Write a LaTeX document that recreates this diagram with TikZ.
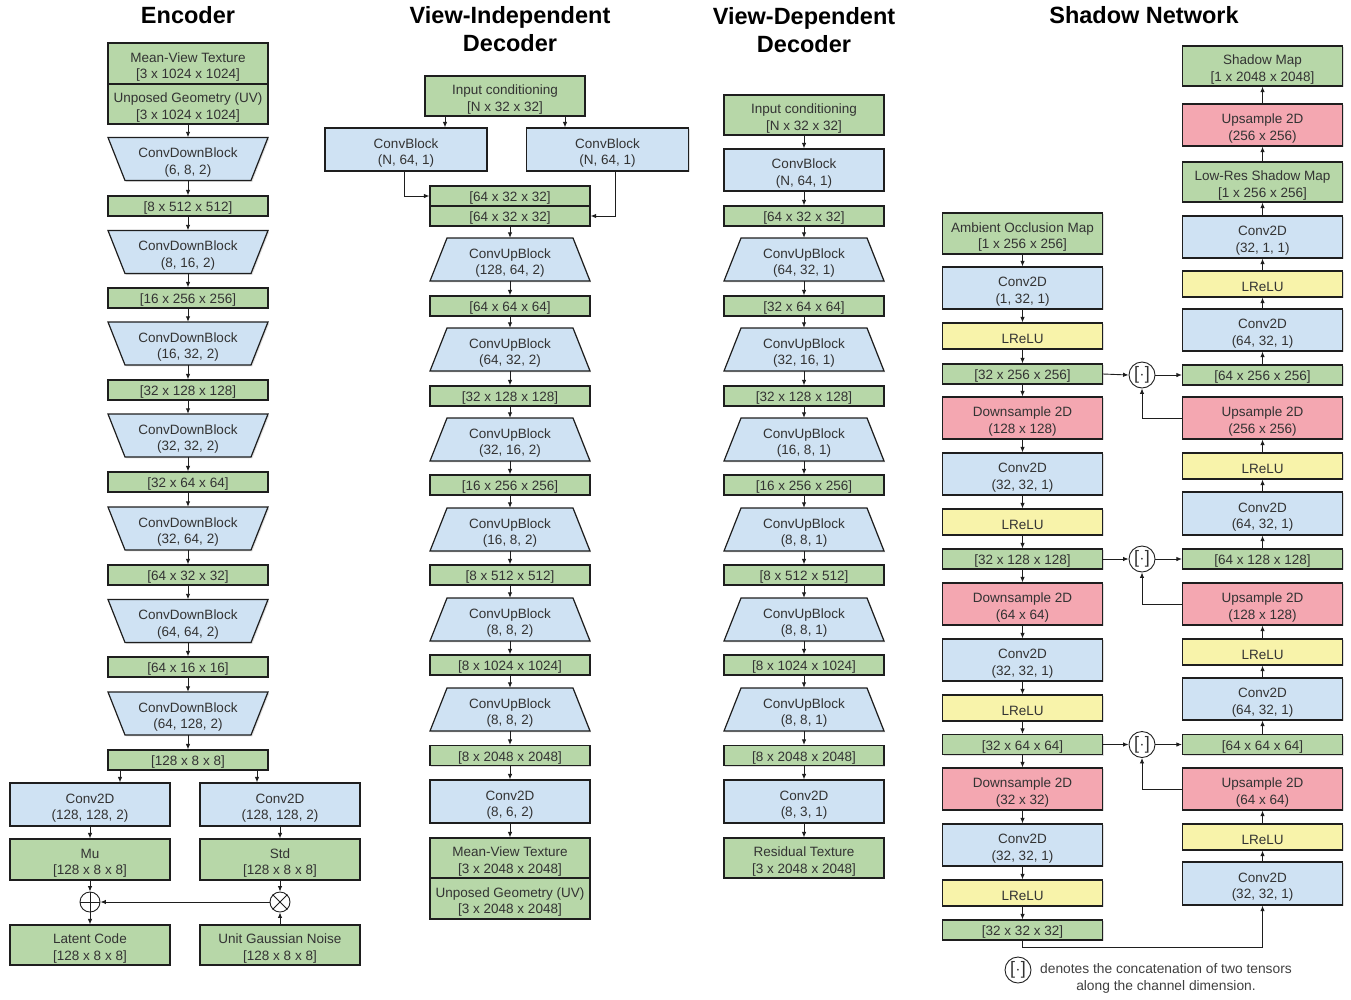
\documentclass[tikz,border=0pt]{standalone}
\usepackage{fontspec}
\setmainfont{Liberation Sans}
\usetikzlibrary{arrows.meta,calc,shadows}
\definecolor{cg}{HTML}{B7D7A8}
\definecolor{cb}{HTML}{CFE2F3}
\definecolor{cp}{HTML}{F4A7B1}
\definecolor{cy}{HTML}{F8F3AA}
\definecolor{edge}{HTML}{1E1E1E}
\tikzset{
 every node/.style={text=black!80, font=\fontsize{13.5}{16.5}\selectfont},
 shd/.style={drop shadow={shadow xshift=1.3pt, shadow yshift=-1.3pt, opacity=0.25}},
 liftone/.style={execute at begin node={\rule{0pt}{14.5pt}}},
 lifttwo/.style={execute at begin node={\rule{0pt}{33pt}}},
 base/.style={draw=edge, line width=1.2pt, inner sep=0pt, minimum width=160pt, align=center, shd},
 gbox/.style={base, fill=cg, lifttwo},
 bbox/.style={base, fill=cb, minimum height=42pt, lifttwo},
 pbox/.style={base, fill=cp, minimum height=42pt, lifttwo},
 ybox/.style={base, fill=cy, minimum height=26pt, liftone},
 dbox/.style={base, fill=cg, minimum height=20pt, liftone},
 tz/.style={inner sep=0pt, minimum width=160pt, minimum height=43pt, align=center, lifttwo},
 trap/.style={fill=cb, draw=edge, line width=1.2pt, line join=miter, shd},
 arr/.style={-{Latex[length=5.5pt,width=4.5pt]}, line width=0.9pt, draw=edge},
 opc/.style={circle, draw=edge, line width=0.9pt, minimum size=20pt, inner sep=0pt, fill=white},
 ccirc/.style={circle, draw=edge, line width=0.9pt, minimum size=26pt, inner sep=0pt, fill=white, font=\fontsize{18}{18}\selectfont},
 ttl/.style={font=\fontsize{23.5}{28}\selectfont\bfseries, text=black, align=center},
}
\newcommand\dnblk[4]{\path[trap] ({#2-80},{#3-21.5}) -- ({#2+80},{#3-21.5}) -- ({#2+63},{#3+21.5}) -- ({#2-63},{#3+21.5}) -- cycle; \node[tz] (#1) at (#2,#3) {#4};}
\newcommand\upblk[4]{\path[trap] ({#2-63},{#3-21.5}) -- ({#2+63},{#3-21.5}) -- ({#2+80},{#3+21.5}) -- ({#2-80},{#3+21.5}) -- cycle; \node[tz] (#1) at (#2,#3) {#4};}
\newcommand\catsym{[\kern0.5pt$\cdot$\kern0.5pt]}
\begin{document}
\begin{tikzpicture}[x=1pt,y=-1pt]
\useasboundingbox (0,0) rectangle (1351,999);
% titles
\node[ttl] (t1) at (188,15) {Encoder};
\node[ttl] (t2) at (510,29) {View-Independent\\Decoder};
\node[ttl] (t3) at (804,30) {View-Dependent\\Decoder};
\node[ttl] (t4) at (1144,15) {Shadow Network};

% ---------------- Encoder
\node[gbox,minimum height=41pt] (e0a) at (188,63.5) {Mean-View Texture\\{}[3 x 1024 x 1024]};
\node[gbox,minimum height=40pt] (e0b) at (188,104) {Unposed Geometry (UV)\\{}[3 x 1024 x 1024]};
\dnblk{d1}{188}{159}{ConvDownBlock\\(6, 8, 2)}
\node[dbox] (s1) at (188,206) {[8 x 512 x 512]};
\dnblk{d2}{188}{252}{ConvDownBlock\\(8, 16, 2)}
\node[dbox] (s2) at (188,298) {[16 x 256 x 256]};
\dnblk{d3}{188}{343.5}{ConvDownBlock\\(16, 32, 2)}
\node[dbox] (s3) at (188,390) {[32 x 128 x 128]};
\dnblk{d4}{188}{435.5}{ConvDownBlock\\(32, 32, 2)}
\node[dbox] (s4) at (188,482) {[32 x 64 x 64]};
\dnblk{d5}{188}{528.5}{ConvDownBlock\\(32, 64, 2)}
\node[dbox] (s5) at (188,575) {[64 x 32 x 32]};
\dnblk{d6}{188}{621}{ConvDownBlock\\(64, 64, 2)}
\node[dbox] (s6) at (188,667) {[64 x 16 x 16]};
\dnblk{d7}{188}{713.5}{ConvDownBlock\\(64, 128, 2)}
\node[dbox] (s7) at (188,760) {[128 x 8 x 8]};
\foreach \a/\b in {e0b/d1,d1/s1,s1/d2,d2/s2,s2/d3,d3/s3,s3/d4,d4/s4,s4/d5,d5/s5,s5/d6,d6/s6,s6/d7,d7/s7}
  \draw[arr] (\a.south) -- (\b.north);

\node[bbox,minimum height=43pt] (cl) at (90,804.5) {Conv2D\\(128, 128, 2)};
\node[bbox,minimum height=43pt] (cr) at (280,804.5) {Conv2D\\(128, 128, 2)};
\node[gbox,minimum height=41pt] (mu) at (90,859.5) {Mu\\{}[128 x 8 x 8]};
\node[gbox,minimum height=41pt] (sd) at (280,859.5) {Std\\{}[128 x 8 x 8]};
\node[opc] (pl) at (90,902) {};
\draw[line width=0.9pt, draw=edge] (pl.north) -- (pl.south) (pl.west) -- (pl.east);
\node[opc] (ti) at (280,902) {};
\draw[line width=0.9pt, draw=edge] (ti.north west) -- (ti.south east) (ti.south west) -- (ti.north east);
\node[gbox,minimum height=40pt] (lc) at (90,945) {Latent Code\\{}[128 x 8 x 8]};
\node[gbox,minimum height=40pt] (un) at (280,945) {Unit Gaussian Noise\\{}[128 x 8 x 8]};
\draw[arr] ($(s7.south)+(-68,0)$) -- ($(cl.north)+(30,0)$);
\draw[arr] ($(s7.south)+(69,0)$) -- ($(cr.north)+(-23,0)$);
\draw[arr] (cl.south) -- (mu.north);
\draw[arr] (cr.south) -- (sd.north);
\draw[arr] (mu.south) -- (pl.north);
\draw[arr] (sd.south) -- (ti.north);
\draw[arr] (un.north) -- (ti.south);
\draw[arr] (ti.west) -- (pl.east);
\draw[arr] (pl.south) -- (lc.north);

% ---------------- View-Independent Decoder
\node[gbox,minimum height=40pt] (ia) at (505,96) {Input conditioning\\{}[N x 32 x 32]};
\node[bbox,minimum width=162pt,minimum height=43pt] (ibl) at (406,149.5) {ConvBlock\\(N, 64, 1)};
\node[bbox,minimum width=162pt,minimum height=43pt] (ibr) at (607.5,149.5) {ConvBlock\\(N, 64, 1)};
\node[dbox] (ia1) at (510,196) {[64 x 32 x 32]};
\node[dbox] (ia2) at (510,216) {[64 x 32 x 32]};
\draw[arr] ($(ia.south)+(-60,0)$) -- ($(ibl.north)+(39,0)$);
\draw[arr] ($(ia.south)+(60,0)$) -- ($(ibr.north)+(-42.5,0)$);
\draw[arr] ($(ibl.south)+(-2,0)$) |- (ia1.west);
\draw[arr] ($(ibr.south)+(8,0)$) |- (ia2.east);
\upblk{iu1}{510}{259.5}{ConvUpBlock\\(128, 64, 2)}
\node[dbox] (iv1) at (510,306) {[64 x 64 x 64]};
\upblk{iu2}{510}{349.5}{ConvUpBlock\\(64, 32, 2)}
\node[dbox] (iv2) at (510,396) {[32 x 128 x 128]};
\upblk{iu3}{510}{439.5}{ConvUpBlock\\(32, 16, 2)}
\node[dbox] (iv3) at (510,485) {[16 x 256 x 256]};
\upblk{iu4}{510}{529.5}{ConvUpBlock\\(16, 8, 2)}
\node[dbox] (iv4) at (510,575) {[8 x 512 x 512]};
\upblk{iu5}{510}{619.5}{ConvUpBlock\\(8, 8, 2)}
\node[dbox] (iv5) at (510,665) {[8 x 1024 x 1024]};
\upblk{iu6}{510}{709.5}{ConvUpBlock\\(8, 8, 2)}
\node[dbox] (iv6) at (510,755.5) {[8 x 2048 x 2048]};
\node[bbox,minimum height=43pt] (ic) at (510,801.5) {Conv2D\\(8, 6, 2)};
\node[gbox,minimum height=40pt] (io1) at (510,858) {Mean-View Texture\\{}[3 x 2048 x 2048]};
\node[gbox,minimum height=41pt] (io2) at (510,898.5) {Unposed Geometry (UV)\\{}[3 x 2048 x 2048]};
\foreach \a/\b in {ia2/iu1,iu1/iv1,iv1/iu2,iu2/iv2,iv2/iu3,iu3/iv3,iv3/iu4,iu4/iv4,iv4/iu5,iu5/iv5,iv5/iu6,iu6/iv6,iv6/ic,ic/io1}
  \draw[arr] (\a.south) -- (\b.north);

% ---------------- View-Dependent Decoder
\node[gbox,minimum height=40pt] (ja) at (804,115) {Input conditioning\\{}[N x 32 x 32]};
\node[bbox,minimum height=42pt] (jb) at (804,170) {ConvBlock\\(N, 64, 1)};
\node[dbox] (j0) at (804,216) {[64 x 32 x 32]};
\upblk{ju1}{804}{259.5}{ConvUpBlock\\(64, 32, 1)}
\node[dbox] (jv1) at (804,306) {[32 x 64 x 64]};
\upblk{ju2}{804}{349.5}{ConvUpBlock\\(32, 16, 1)}
\node[dbox] (jv2) at (804,396) {[32 x 128 x 128]};
\upblk{ju3}{804}{439.5}{ConvUpBlock\\(16, 8, 1)}
\node[dbox] (jv3) at (804,485) {[16 x 256 x 256]};
\upblk{ju4}{804}{529.5}{ConvUpBlock\\(8, 8, 1)}
\node[dbox] (jv4) at (804,575) {[8 x 512 x 512]};
\upblk{ju5}{804}{619.5}{ConvUpBlock\\(8, 8, 1)}
\node[dbox] (jv5) at (804,665) {[8 x 1024 x 1024]};
\upblk{ju6}{804}{709.5}{ConvUpBlock\\(8, 8, 1)}
\node[dbox] (jv6) at (804,755.5) {[8 x 2048 x 2048]};
\node[bbox,minimum height=43pt] (jc) at (804,801.5) {Conv2D\\(8, 3, 1)};
\node[gbox,minimum height=40pt] (jo) at (804,858) {Residual Texture\\{}[3 x 2048 x 2048]};
\foreach \a/\b in {ja/jb,jb/j0,j0/ju1,ju1/jv1,jv1/ju2,ju2/jv2,jv2/ju3,ju3/jv3,jv3/ju4,ju4/jv4,jv4/ju5,ju5/jv5,jv5/ju6,ju6/jv6,jv6/jc,jc/jo}
  \draw[arr] (\a.south) -- (\b.north);

% ---------------- Shadow Network, left column
\begin{scope}[every node/.append style={minimum width=161pt}]
\node[gbox,minimum height=41pt] (L0) at (1022.5,233.5) {Ambient Occlusion Map\\{}[1 x 256 x 256]};
\node[bbox] (L1) at (1022.5,288) {Conv2D\\(1, 32, 1)};
\node[ybox] (L2) at (1022.5,336) {LReLU};
\node[dbox] (L3) at (1022.5,374) {[32 x 256 x 256]};
\node[pbox] (L4) at (1022.5,418) {Downsample 2D\\(128 x 128)};
\node[bbox] (L5) at (1022.5,474) {Conv2D\\(32, 32, 1)};
\node[ybox] (L6) at (1022.5,522) {LReLU};
\node[dbox] (L7) at (1022.5,559) {[32 x 128 x 128]};
\node[pbox] (L8) at (1022.5,604) {Downsample 2D\\(64 x 64)};
\node[bbox] (L9) at (1022.5,660) {Conv2D\\(32, 32, 1)};
\node[ybox] (L10) at (1022.5,708) {LReLU};
\node[dbox] (L11) at (1022.5,744.5) {[32 x 64 x 64]};
\node[pbox] (L12) at (1022.5,789) {Downsample 2D\\(32 x 32)};
\node[bbox] (L13) at (1022.5,845) {Conv2D\\(32, 32, 1)};
\node[ybox] (L14) at (1022.5,893) {LReLU};
\node[dbox] (L15) at (1022.5,930) {[32 x 32 x 32]};

% right column
\node[gbox,minimum height=40pt] (R0) at (1262.5,66) {Shadow Map\\{}[1 x 2048 x 2048]};
\node[pbox] (R1) at (1262.5,125) {Upsample 2D\\(256 x 256)};
\node[gbox,minimum height=40pt] (R2) at (1262.5,182) {Low-Res Shadow Map\\{}[1 x 256 x 256]};
\node[bbox] (R3) at (1262.5,237) {Conv2D\\(32, 1, 1)};
\node[ybox] (R4) at (1262.5,284) {LReLU};
\node[bbox] (R5) at (1262.5,330) {Conv2D\\(64, 32, 1)};
\node[dbox] (R6) at (1262.5,375) {[64 x 256 x 256]};
\node[pbox] (R7) at (1262.5,418) {Upsample 2D\\(256 x 256)};
\node[ybox] (R8) at (1262.5,466) {LReLU};
\node[bbox,minimum height=43pt] (R9) at (1262.5,513.5) {Conv2D\\(64, 32, 1)};
\node[dbox] (R10) at (1262.5,559) {[64 x 128 x 128]};
\node[pbox] (R11) at (1262.5,604) {Upsample 2D\\(128 x 128)};
\node[ybox] (R12) at (1262.5,652) {LReLU};
\node[bbox] (R13) at (1262.5,699) {Conv2D\\(64, 32, 1)};
\node[dbox] (R14) at (1262.5,744.5) {[64 x 64 x 64]};
\node[pbox] (R15) at (1262.5,789) {Upsample 2D\\(64 x 64)};
\node[ybox] (R16) at (1262.5,837) {LReLU};
\node[bbox,minimum height=43pt] (R17) at (1262.5,883.5) {Conv2D\\(32, 32, 1)};
\end{scope}

\foreach \a/\b in {L0/L1,L1/L2,L2/L3,L3/L4,L4/L5,L5/L6,L6/L7,L7/L8,L8/L9,L9/L10,L10/L11,L11/L12,L12/L13,L13/L14,L14/L15}
  \draw[arr] (\a.south) -- (\b.north);
\foreach \a/\b in {R17/R16,R16/R15,R14/R13,R13/R12,R12/R11,R10/R9,R9/R8,R8/R7,R6/R5,R5/R4,R4/R3,R3/R2,R2/R1,R1/R0}
  \draw[arr] (\a.north) -- (\b.south);

\node[ccirc] (k1) at (1142,375) {\catsym};
\node[ccirc] (k2) at (1142,559) {\catsym};
\node[ccirc] (k3) at (1142,744.5) {\catsym};
\draw[arr] (L3.east) -- (k1.west);
\draw[arr] (k1.east) -- (R6.west);
\draw[arr] (R7.west) -| (k1.south);
\draw[arr] (L7.east) -- (k2.west);
\draw[arr] (k2.east) -- (R10.west);
\draw[arr] (R11.west) -| (k2.south);
\draw[arr] (L11.east) -- (k3.west);
\draw[arr] (k3.east) -- (R14.west);
\draw[arr] (R15.west) -| (k3.south);
\draw[arr] (L15.south) -- ++(0,7) -| (R17.south);

% legend
\node[ccirc] (lg) at (1018,970) {\catsym};
\node[font=\fontsize{13.8}{17}\selectfont, text=black!75, align=center] (lt) at (1166,978.5) {denotes the concatenation of two tensors\\along the channel dimension.};
\end{tikzpicture}
\end{document}
